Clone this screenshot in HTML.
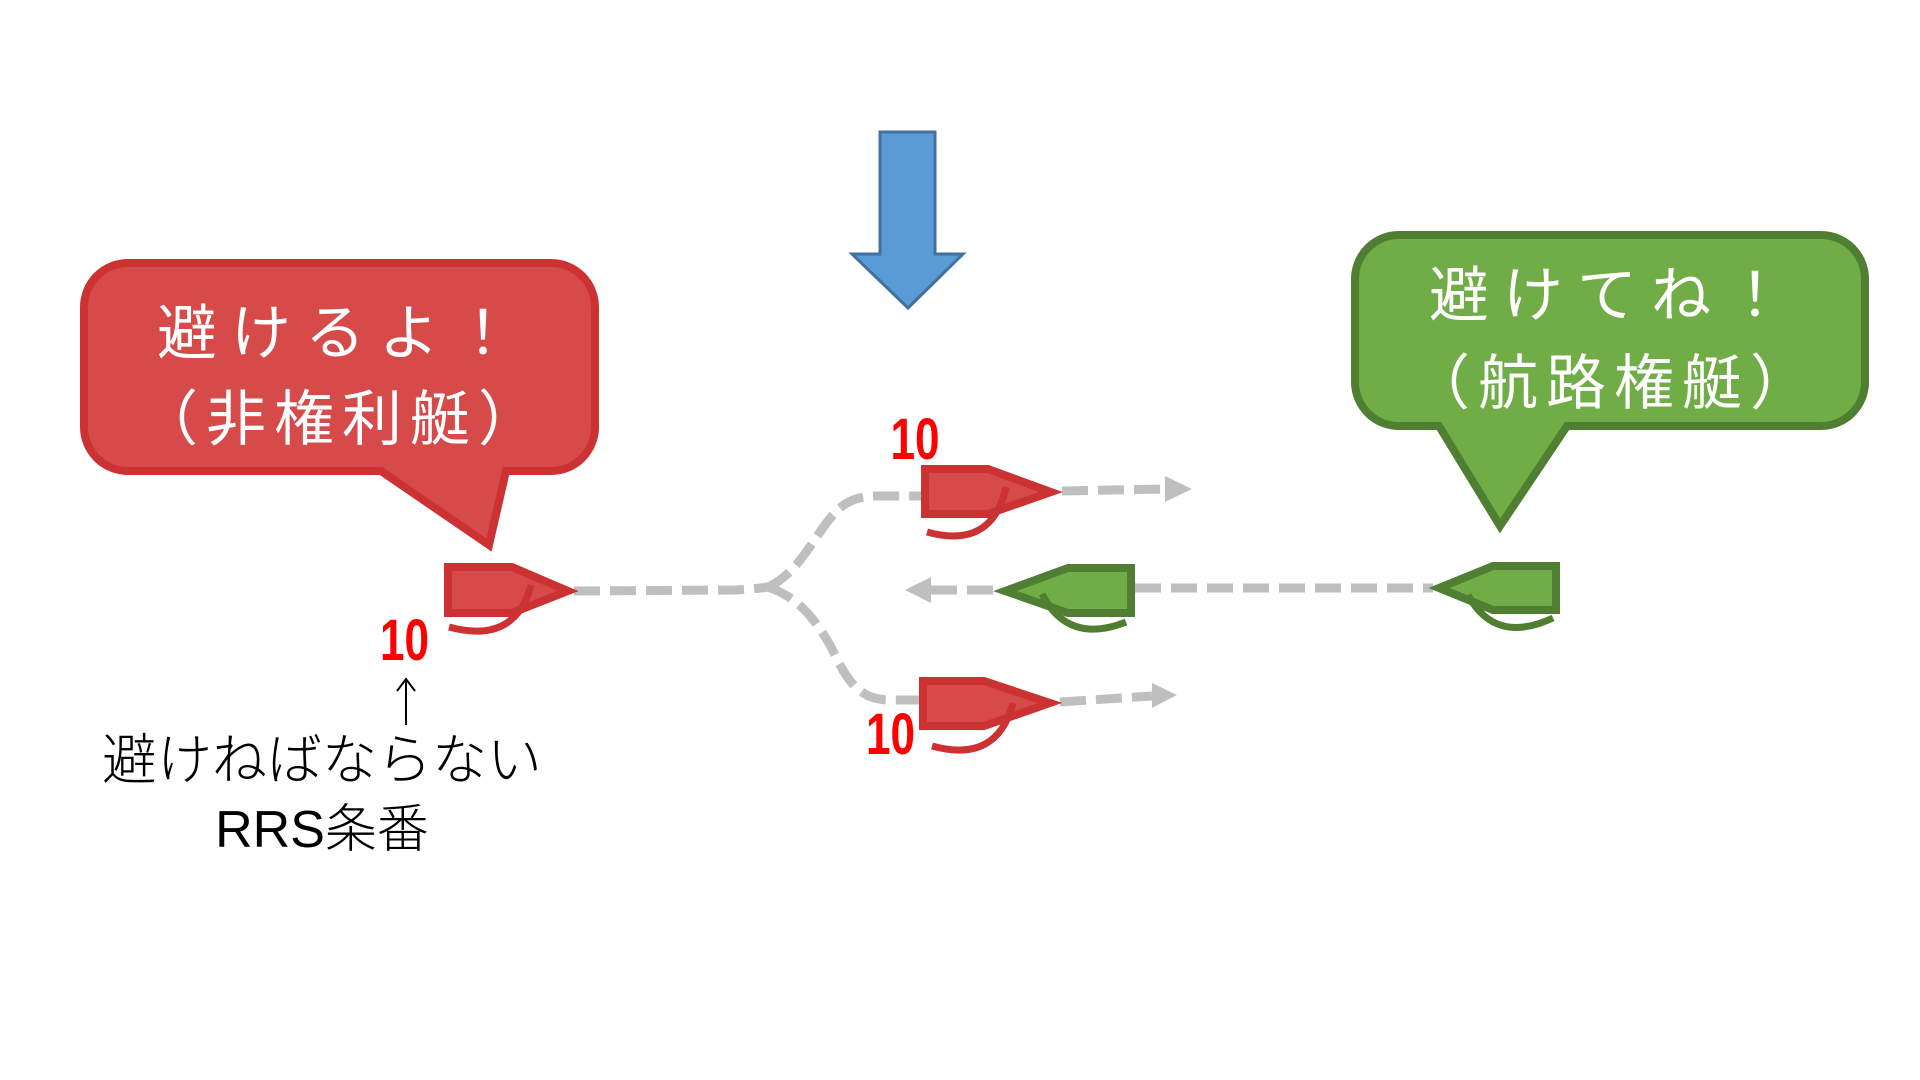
<!DOCTYPE html>
<html><head><meta charset="utf-8"><style>
html,body{margin:0;padding:0;background:#fff;width:1920px;height:1080px;overflow:hidden}
svg{display:block}
.hw{font-family:"Liberation Sans","Noto Sans CJK JP",sans-serif;fill:#fff;font-size:60px}
.jp{font-family:"Liberation Sans","Noto Sans CJK JP",sans-serif;fill:#000;font-weight:300}
.num{font-family:"Liberation Sans",sans-serif;font-weight:bold;fill:#ff0000;font-size:58px}
</style></head><body>
<svg width="1920" height="1080" viewBox="0 0 1920 1080" xmlns="http://www.w3.org/2000/svg">
<!-- blue down arrow -->
<polygon points="880,132 935,132 935,254 963,254 908,308 852,254 880,254" fill="#5b9bd5" stroke="#41719c" stroke-width="3" stroke-linejoin="miter"/>

<!-- red bubble -->
<path d="M128,263 H551 A44,44 0 0 1 595,307 V427 A44,44 0 0 1 551,471 H506 L489,545 L381,471 H128 A44,44 0 0 1 84,427 V307 A44,44 0 0 1 128,263 Z" fill="#d64a4a" stroke="#cc3232" stroke-width="8" stroke-linejoin="miter"/>
<text class="hw" x="342" y="354" text-anchor="middle" letter-spacing="14">避けるよ！</text>
<text class="hw" x="342" y="440" text-anchor="middle" font-size="62" letter-spacing="8">（非権利艇）</text>

<!-- green bubble -->
<path d="M1399,235 H1821 A44,44 0 0 1 1865,279 V382 A44,44 0 0 1 1821,426 H1567 L1500,526 L1439,426 H1399 A44,44 0 0 1 1355,382 V279 A44,44 0 0 1 1399,235 Z" fill="#70ad47" stroke="#507e32" stroke-width="8" stroke-linejoin="miter"/>
<text class="hw" x="1614" y="316" text-anchor="middle" letter-spacing="14">避けてね！</text>
<text class="hw" x="1614" y="404" text-anchor="middle" font-size="62" letter-spacing="8">（航路権艇）</text>

<!-- dashed tracks -->
<g fill="none" stroke="#bfbfbf" stroke-width="9" stroke-dasharray="26 10">
  <path d="M574,591 L735,590 Q755,589 768,587"/>
  <path d="M768,587 C795,575 810,545 825,525 C840,505 850,497 875,496 L921,496"/>
  <path d="M768,587 C800,598 815,620 830,645 C845,675 855,700 890,700 L919,700"/>
  <path d="M1062,491 L1164,489"/>
  <path d="M1060,702 L1152,696"/>
  <path d="M931,590 L999,590"/>
  <path d="M1135,588 L1433,588"/>
</g>
<g fill="#bfbfbf">
  <polygon points="1165,476 1192,489 1165,502"/>
  <polygon points="1152,683 1177,695 1152,708"/>
  <polygon points="931,577 905,590 931,603"/>
</g>

<!-- red boats -->
<g fill="#d64a4a" stroke="#cc3232" stroke-width="8" stroke-linejoin="miter">
  <path d="M448,567 H512 L568,591 L512,613 H448 Z"/>
  <path d="M925,469 H988 L1051,492 L988,514 H925 Z"/>
  <path d="M923,681 H984 L1050,703 L984,726 H923 Z"/>
</g>
<g fill="none" stroke="#cc3232" stroke-width="7">
  <path d="M449,627 Q515,645 531,585"/>
  <path d="M927,532 Q992,550 1006,487"/>
  <path d="M932,746 Q997,764 1013,703"/>
</g>

<!-- green boats -->
<g fill="#70ad47" stroke="#507e32" stroke-width="8" stroke-linejoin="miter">
  <path d="M1131,568 H1068 L1005,591 L1068,613 H1131 Z"/>
  <path d="M1556,566 H1493 L1439,588 L1493,610 H1556 Z"/>
</g>
<g fill="none" stroke="#507e32" stroke-width="7">
  <path d="M1042,594 Q1068,645 1126,622"/>
  <path d="M1468,595 Q1495,645 1553,618"/>
</g>

<!-- 10 labels -->
<text class="num" transform="translate(404.5,660) scale(0.76,1)" text-anchor="middle">10</text>
<text class="num" transform="translate(915,459) scale(0.76,1)" text-anchor="middle">10</text>
<text class="num" transform="translate(890.5,754) scale(0.76,1)" text-anchor="middle">10</text>

<!-- up arrow -->
<line x1="406" y1="680" x2="406" y2="725" stroke="#000" stroke-width="2"/>
<polyline points="397,691 406,679 415,691" fill="none" stroke="#000" stroke-width="2"/>

<!-- bottom-left text -->
<text class="jp" x="322" y="779" font-size="55" text-anchor="middle">避けねばならない</text>
<text class="jp" x="322" y="847" font-size="52" text-anchor="middle">RRS条番</text>
</svg>
</body></html>
